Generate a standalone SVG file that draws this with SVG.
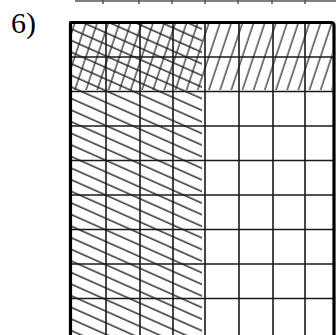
<svg xmlns="http://www.w3.org/2000/svg" width="336" height="335" viewBox="0 0 336 335">
  <style>
    .grid { stroke: #1a1a1a; stroke-width: 1.6; fill: none; }
    .border { stroke: #000; stroke-width: 3.2; fill: none; stroke-linejoin: round; }
    .top { stroke: #555; stroke-width: 1.5; fill: none; }
    .label { font-family: "Liberation Serif", "Times New Roman", serif; font-size: 30px; fill: #000; }
  </style>
  <defs>
    <pattern id="fwd" patternUnits="userSpaceOnUse" width="10.6" height="20" patternTransform="translate(72 22) rotate(18.4)">
      <line x1="3" y1="-2" x2="3" y2="22" stroke="#333" stroke-width="1.3"/>
    </pattern>
    <pattern id="back" patternUnits="userSpaceOnUse" width="20" height="10.6" patternTransform="translate(70 24) rotate(24)">
      <line x1="-2" y1="4" x2="22" y2="4" stroke="#222" stroke-width="1.4"/>
    </pattern>
  </defs>

  <rect width="336" height="335" fill="#fff"/>

  <g id="top-strip">
    <path class="top" d="M75,1 H336 M103,0 V4 M139,0 V4 M172,0 V4 M205,0 V4 M238,0 V4 M272,0 V4 M305,0 V4"/>
  </g>

  <text class="label" x="11" y="33">6)</text>

  <g id="hatching">
    <rect x="72" y="24" width="260" height="66" fill="url(#fwd)"/>
    <rect x="72" y="24" width="130" height="312" fill="url(#back)"/>
  </g>

  <g id="grid">
    <path class="grid" d="M106,22 V340 M140,22 V340 M173,22 V340 M205,22 V340 M239,22 V340 M273,22 V340 M305,22 V340"/>
    <path class="grid" d="M70,57 H334 M70,91.5 H334 M70,126 H334 M70,160.5 H334 M70,195 H334 M70,229.5 H334 M70,264 H334 M70,298.5 H334"/>
  </g>

  <g id="outline">
    <path class="border" d="M70.5,340 V22.5 H331 Q334,22.5 334,25.5 V340"/>
  </g>
</svg>
